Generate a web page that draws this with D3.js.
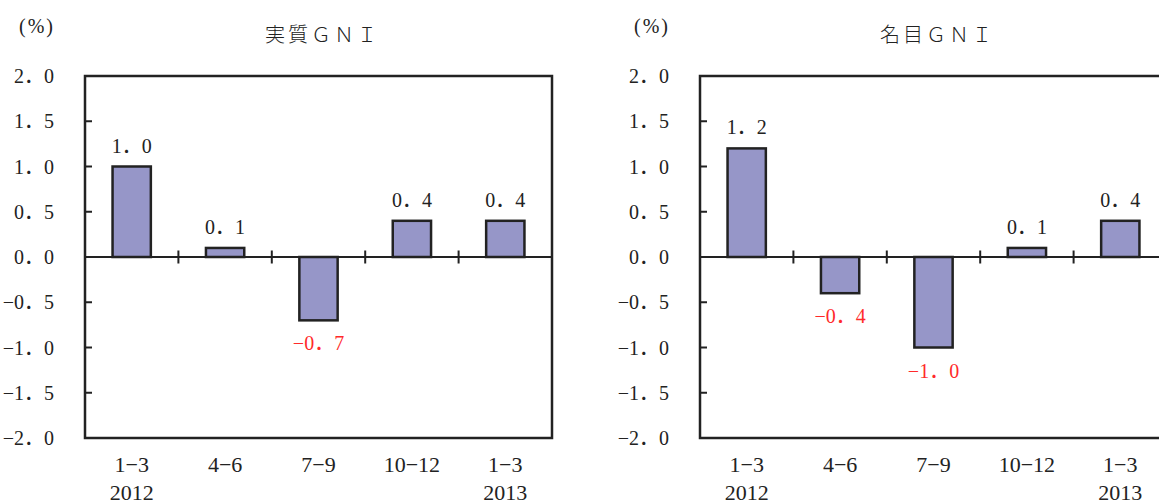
<!DOCTYPE html>
<html lang="ja">
<head>
<meta charset="UTF-8">
<title>実質GNI・名目GNI</title>
<style>
  body, html { margin: 0; padding: 0; background: #fff; overflow: hidden; }
  svg { display: block; }
  text { font-family: "Liberation Serif", serif; fill: #222; }
  .title { font-family: "Noto Sans CJK JP", sans-serif; font-weight: 300; font-size: 20px; letter-spacing: 3px; }
  .unit { font-size: 20px; letter-spacing: 2px; }
  .ytick { font-size: 20px; }
  .xlab { font-size: 22px; }
  .val { font-size: 20px; }
  .val.neg { fill: #ff2a2a; }
  .fw { font-family: "Noto Sans CJK JP", sans-serif; }
</style>
</head>
<body>
<svg id="chart" width="1159" height="504"></svg>
<script src="https://d3js.org/d3.v7.min.js"></script>
<script>
// data
const quarters = ["1−3", "4−6", "7−9", "10−12", "1−3"];
const years = ["2012", "", "", "", "2013"];
const realGni = [1.0, 0.1, -0.7, 0.4, 0.4];
const nominalGni = [1.2, -0.4, -1.0, 0.1, 0.4];
const yTicks = [2.0, 1.5, 1.0, 0.5, 0.0, -0.5, -1.0, -1.5, -2.0];

const panels = [
  { title: "実質ＧＮＩ", values: realGni, left: 85 },
  { title: "名目ＧＮＩ", values: nominalGni, left: 700 }
];

const plotW = 467, plotTop = 76, plotBottom = 438;
const svg = d3.select("#chart");

// "−0．7" style: digits in serif, full-width period in the CJK font
const fmt = v => d3.format(".1f")(v).replace("-", "−");
function numText(sel) {
  sel.each(function(d) {
    const parts = fmt(d).split(".");
    const t = d3.select(this);
    t.selectAll("tspan").remove();
    t.append("tspan").text(parts[0]);
    t.append("tspan").attr("class", "fw").text("．");
    t.append("tspan").text(parts[1]);
  });
}

const y = d3.scaleLinear().domain([-2, 2]).range([plotBottom, plotTop]);

panels.forEach(p => {
  const g = svg.append("g");
  const x = d3.scaleBand()
    .domain(d3.range(quarters.length))
    .range([p.left, p.left + plotW])
    .paddingInner(0.59).paddingOuter(0.295);
  const band = d3.scaleBand()
    .domain(d3.range(quarters.length))
    .range([p.left, p.left + plotW]);

  // title and unit
  g.append("text").attr("class", "title")
    .attr("x", p.left + plotW / 2 + 4).attr("y", 42)
    .attr("text-anchor", "middle").text(p.title);
  g.append("text").attr("class", "unit")
    .attr("x", p.left - 30).attr("y", 33)
    .attr("text-anchor", "end").text("(%)");

  // y tick labels
  g.selectAll(".ytick").data(yTicks).join("text")
    .attr("class", "ytick")
    .attr("x", p.left - 31)
    .attr("y", d => y(d) + 7)
    .attr("text-anchor", "end")
    .call(numText);

  // inner y ticks
  g.selectAll(".yt").data(yTicks.filter(d => Math.abs(d) > 0 && Math.abs(d) < 2)).join("line")
    .attr("x1", p.left).attr("x2", p.left + 7)
    .attr("y1", d => y(d)).attr("y2", d => y(d))
    .attr("stroke", "#222").attr("stroke-width", 2);

  // bars
  g.selectAll(".bar").data(p.values).join("rect")
    .attr("x", (d, i) => x(i))
    .attr("width", x.bandwidth())
    .attr("y", d => y(Math.max(0, d)))
    .attr("height", d => Math.abs(y(d) - y(0)))
    .attr("fill", "#9696c8")
    .attr("stroke", "#222").attr("stroke-width", 2.5);

  // zero line with cross ticks at category boundaries
  g.append("line")
    .attr("x1", p.left).attr("x2", p.left + plotW)
    .attr("y1", y(0)).attr("y2", y(0))
    .attr("stroke", "#222").attr("stroke-width", 1.8);
  g.selectAll(".xt").data(d3.range(1, quarters.length)).join("line")
    .attr("x1", i => band(i)).attr("x2", i => band(i))
    .attr("y1", y(0) - 6.5).attr("y2", y(0) + 6.5)
    .attr("stroke", "#222").attr("stroke-width", 2);

  // frame
  g.append("rect")
    .attr("x", p.left).attr("y", plotTop)
    .attr("width", plotW).attr("height", plotBottom - plotTop)
    .attr("fill", "none").attr("stroke", "#222").attr("stroke-width", 2.5);

  // value labels
  g.selectAll(".val").data(p.values).join("text")
    .attr("class", d => d < 0 ? "val neg" : "val")
    .attr("x", (d, i) => x(i) + x.bandwidth() / 2)
    .attr("y", d => d < 0 ? y(d) + 30 : y(d) - 14)
    .attr("text-anchor", "middle")
    .call(numText);

  // category labels
  g.selectAll(".xlab").data(quarters).join("text")
    .attr("class", "xlab")
    .attr("x", (d, i) => band(i) + band.bandwidth() / 2)
    .attr("y", 472)
    .attr("text-anchor", "middle").text(d => d);
  g.selectAll(".yr").data(years).join("text")
    .attr("class", "xlab yr")
    .attr("x", (d, i) => band(i) + band.bandwidth() / 2)
    .attr("y", 500)
    .attr("text-anchor", "middle").text(d => d);
});
</script>
</body>
</html>
